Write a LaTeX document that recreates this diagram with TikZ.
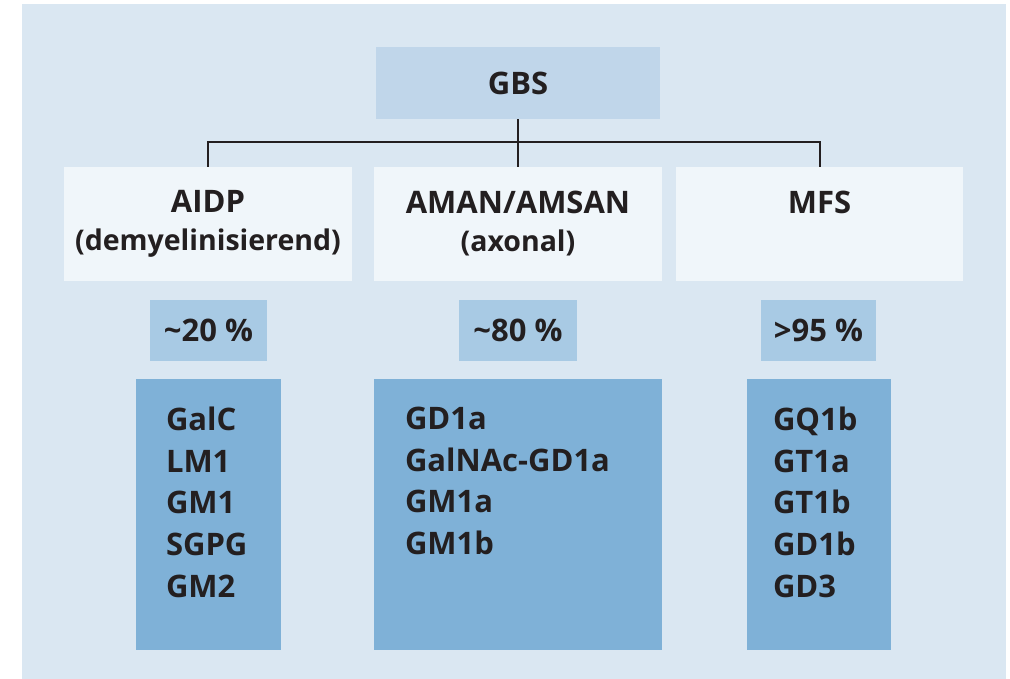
\documentclass[tikz,border=0pt]{standalone}
\usepackage{fontspec}
\setmainfont{Open Sans}

\definecolor{panel}{HTML}{DAE7F2}
\definecolor{gbsblue}{HTML}{C0D6EA}
\definecolor{typpale}{HTML}{F0F6FA}
\definecolor{prozblue}{HTML}{A8CAE4}
\definecolor{listblue}{HTML}{7FB1D7}
\definecolor{schrift}{HTML}{231F20}

\newcommand{\zusatz}[1]{{\fontsize{28.5}{38}\selectfont #1}}

\begin{document}
\begin{tikzpicture}[x=1pt,y=-1pt,
    kasten/.style={inner sep=0pt, font=\fontsize{31}{38}\selectfont\bfseries, text=schrift, align=center},
    kopf/.style={kasten, fill=gbsblue, minimum width=284pt, minimum height=72pt},
    typ/.style={kasten, fill=typpale, minimum width=288pt, minimum height=114pt},
    anteil/.style={kasten, fill=prozblue, minimum width=117pt, minimum height=61pt},
    liste/.style={kasten, fill=listblue, minimum height=271pt},
    eintrag/.style={kasten, anchor=north west, align=left, font=\fontsize{31}{41.7}\selectfont\bfseries},
    linie/.style={line width=2pt, schrift},
]

\fill[white] (0,0) rectangle (1010,679);
\useasboundingbox (0,0) rectangle (1010,679);
\fill[panel] (22,4) rectangle (1006,679);

\node [kopf] (gbs) at (518,83) {GBS};

\node [typ] (aidp) at (208,224) {AIDP\\\zusatz{(demyelinisierend)}};
\node [typ] (aman) at (518,224) {AMAN/AMSAN\\\zusatz{(axonal)}};
\node [typ, minimum width=287pt] (mfs) at (819.5,224) {MFS\\\zusatz{\phantom{(axonal)}}};

\coordinate (steg) at (518,142);
\draw [linie] (aidp.north) |- (steg) -| (mfs.north);
\draw [linie] (gbs.south) -- (aman.north);

\node [anteil] (p1) at (208.5,330.5) {\textasciitilde20 \%};
\node [anteil, minimum width=118pt] (p2) at (518,330.5) {\textasciitilde80 \%};
\node [anteil, minimum width=115pt] (p3) at (818.5,330.5) {>95 \%};

\node [liste, minimum width=145pt] (l1) at (208.5,514.5) {};
\node [liste, minimum width=288pt] (l2) at (518,514.5) {};
\node [liste, minimum width=144pt] (l3) at (819,514.5) {};

\node [eintrag] (t1) at ([xshift=30pt, yshift=-28pt]l1.north west) {GalC\\LM1\\GM1\\SGPG\\GM2};
\node [eintrag] (t2) at ([xshift=31pt, yshift=-28pt]l2.north west) {GD1a\\GalNAc-GD1a\\GM1a\\GM1b};
\node [eintrag] (t3) at ([xshift=26pt, yshift=-28pt]l3.north west) {GQ1b\\GT1a\\GT1b\\GD1b\\GD3};

\end{tikzpicture}
\end{document}
